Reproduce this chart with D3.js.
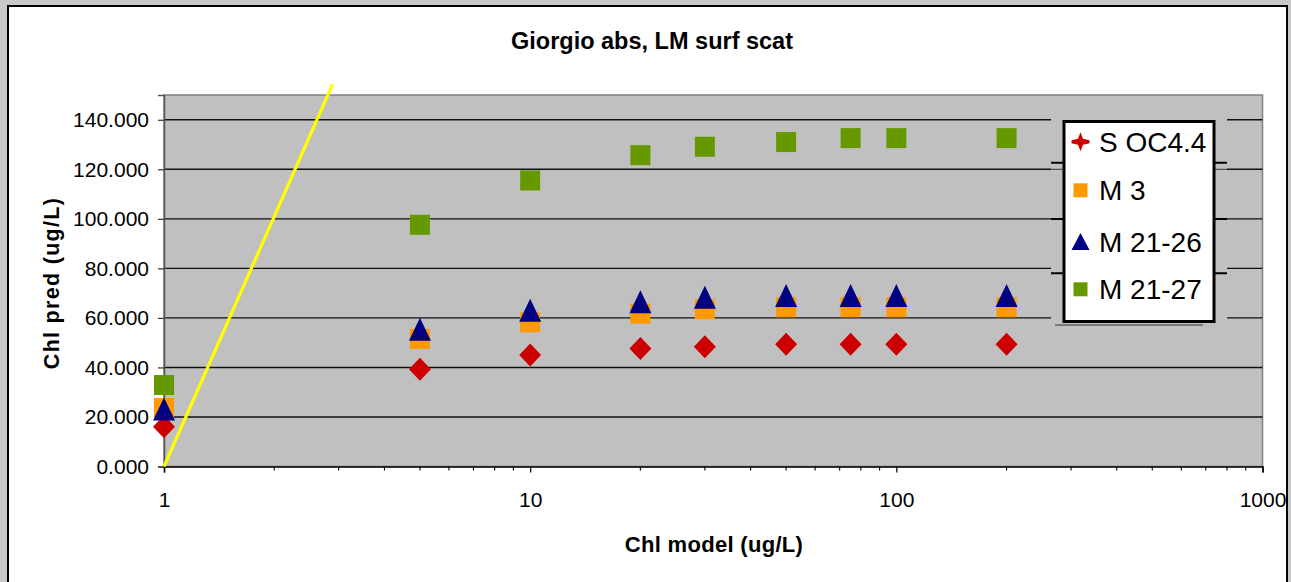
<!DOCTYPE html>
<html>
<head>
<meta charset="utf-8">
<script src="https://cdn.jsdelivr.net/npm/d3@7"></script>
<style>
  html, body { margin: 0; padding: 0; background: #c8c8c8; }
  svg { display: block; }
  text { font-family: "Liberation Sans", Arial, sans-serif; fill: #000; }
</style>
</head>
<body>
<svg id="chart" width="1291" height="582"></svg>
<script>
// Model chlorophyll concentrations (x values, ug/L)
const chlModel = [1, 5, 10, 20, 30, 50, 75, 100, 200];

// Predicted chlorophyll per retrieval (ug/L)
const sOC44   = [16.1, 39.3, 45.0, 47.6, 48.4, 49.4, 49.4, 49.4, 49.4];
const m3      = [23.6, 51.5, 58.2, 61.7, 63.5, 64.3, 64.3, 64.3, 64.3];
const m2126   = [23.2, 55.4, 63.1, 66.5, 68.3, 69.0, 69.0, 69.0, 69.0];
const m2127   = [32.9, 97.6, 115.5, 125.7, 129.1, 131.0, 132.6, 132.6, 132.6];

const seriesNames = ["S OC4.4", "M 3", "M 21-26", "M 21-27"];

// Reference line (yellow)
const refLineX = [1, 2.89];
const refLineY = [0, 154.5];

// Axis ticks
const yTicks = [0, 20, 40, 60, 80, 100, 120, 140];
const xMajorTicks = [1, 10, 100, 1000];

const svg = d3.select("#chart");

// chart area
svg.append("rect")
  .attr("x", 8).attr("y", 6)
  .attr("width", 1279).attr("height", 590)
  .attr("fill", "#fff").attr("stroke", "#000").attr("stroke-width", 2);

const plot = { left: 164, right: 1262.5, top: 95, bottom: 466.5 };

const x = d3.scaleLog().domain([1, 1000]).range([plot.left, plot.right]);
const y = d3.scaleLinear().domain([0, 150]).range([plot.bottom, plot.top]);

// plot area
svg.append("rect")
  .attr("x", plot.left).attr("y", plot.top)
  .attr("width", plot.right - plot.left).attr("height", plot.bottom - plot.top)
  .attr("fill", "#c0c0c0").attr("stroke", "#808080").attr("stroke-width", 1.5);

// horizontal gridlines
svg.append("g").selectAll("line")
  .data(yTicks.filter(d => d > 0))
  .join("line")
  .attr("x1", plot.left).attr("x2", plot.right)
  .attr("y1", d => y(d)).attr("y2", d => y(d))
  .attr("stroke", "#111").attr("stroke-width", 1.4);

// y axis
const yAxis = d3.axisLeft(y)
  .tickValues(yTicks)
  .tickFormat(d3.format(".3f"))
  .tickSize(6)
  .tickPadding(9);
const gy = svg.append("g").attr("transform", `translate(${plot.left},0)`).call(yAxis);
gy.select(".domain").attr("stroke", "#555").attr("stroke-width", 1.5);
gy.selectAll(".tick line").attr("stroke", "#333").attr("stroke-width", 1.2);
gy.selectAll(".tick text")
  .attr("font-size", 21)
  .attr("font-family", "Liberation Sans, Arial, sans-serif")
  .attr("fill", "#000");

// x axis: major ticks with labels, minor ticks inside each decade
const minorTicks = [];
[1, 10, 100].forEach(dec => { for (let k = 2; k <= 9; k++) minorTicks.push(dec * k); });

const xAxis = d3.axisBottom(x)
  .tickValues(xMajorTicks)
  .tickFormat(d3.format("d"))
  .tickSize(6)
  .tickPadding(20);
const gx = svg.append("g").attr("transform", `translate(0,${plot.bottom})`).call(xAxis);
gx.select(".domain").attr("stroke", "#000").attr("stroke-width", 1.5);
gx.selectAll(".tick line").attr("stroke", "#000").attr("stroke-width", 1.2);
gx.selectAll(".tick text")
  .attr("font-size", 21)
  .attr("font-family", "Liberation Sans, Arial, sans-serif")
  .attr("fill", "#000");

svg.append("g").attr("transform", `translate(0,${plot.bottom})`)
  .selectAll("line").data(minorTicks).join("line")
  .attr("x1", d => x(d)).attr("x2", d => x(d))
  .attr("y1", 0).attr("y2", 4)
  .attr("stroke", "#000").attr("stroke-width", 1.1);

// reference line
const refPts = refLineX.map((v, i) => [v, refLineY[i]]);
svg.append("path")
  .datum(refPts)
  .attr("d", d3.line().x(d => x(d[0])).y(d => y(d[1])))
  .attr("fill", "none").attr("stroke", "#ffff00").attr("stroke-width", 3.2);

// marker shapes
const diamond = (w, h) => `M0,${-h / 2}L${w / 2},0L0,${h / 2}L${-w / 2},0Z`;
const square = s => `M${-s / 2},${-s / 2}h${s}v${s}h${-s}Z`;
const triangle = (w, h) => `M0,${-h / 2}L${w / 2},${h / 2}L${-w / 2},${h / 2}Z`;

const series = [
  { name: seriesNames[0], values: sOC44, color: "#cc0000", shape: diamond(22, 23) },
  { name: seriesNames[1], values: m3,    color: "#ff9900", shape: square(20) },
  { name: seriesNames[2], values: m2126, color: "#000080", shape: triangle(22, 23) },
  { name: seriesNames[3], values: m2127, color: "#669900", shape: square(20) }
];

series.forEach(s => {
  svg.append("g").selectAll("path")
    .data(chlModel.map((cx, i) => [cx, s.values[i]]))
    .join("path")
    .attr("transform", d => `translate(${x(d[0])},${y(d[1])})`)
    .attr("d", s.shape)
    .attr("fill", s.color);
});

// legend
const lg = svg.append("g");
// backing strip behind the legend box
lg.append("rect").attr("x", 1051).attr("y", 114).attr("width", 176).attr("height", 212)
  .attr("fill", "#c0c0c0");
[y(120), y(100)].forEach(gyv => {
  lg.append("line").attr("x1", 1051).attr("x2", 1227).attr("y1", gyv).attr("y2", gyv)
    .attr("stroke", "#555").attr("stroke-width", 1.2);
});
[162.7, 219, 273.3].forEach(sy => {
  lg.append("line").attr("x1", 1051).attr("x2", 1227).attr("y1", sy).attr("y2", sy)
    .attr("stroke", "#000").attr("stroke-width", 2);
});
lg.append("line").attr("x1", 1055).attr("x2", 1203).attr("y1", 325).attr("y2", 325)
  .attr("stroke", "#333").attr("stroke-width", 1);
lg.append("rect")
  .attr("x", 1064).attr("y", 121.5).attr("width", 150).attr("height", 200)
  .attr("fill", "#fff").attr("stroke", "#000").attr("stroke-width", 3);

const star = "M0,-9.5L2.5,-3L9,-1.5L9,1.5L2.5,3L0,9.5L-2.5,3L-9,1.5L-9,-1.5L-2.5,-3Z";
const legendShapes = [star, square(14), triangle(18, 17), square(14)];
const legendRowY = [141.7, 190.3, 241.5, 289.3];

series.forEach((s, i) => {
  lg.append("path")
    .attr("transform", `translate(1080.5,${legendRowY[i]})`)
    .attr("d", legendShapes[i])
    .attr("fill", s.color);
  lg.append("text")
    .attr("x", 1099).attr("y", legendRowY[i] + 10)
    .attr("font-size", 28)
    .text(s.name);
});

// titles
svg.append("text")
  .attr("x", 652).attr("y", 49)
  .attr("text-anchor", "middle")
  .attr("font-size", 23.5).attr("font-weight", "bold")
  .text("Giorgio abs, LM surf scat");

svg.append("text")
  .attr("x", 714).attr("y", 552)
  .attr("text-anchor", "middle")
  .attr("font-size", 22).attr("font-weight", "bold")
  .attr("letter-spacing", 0.3)
  .text("Chl model (ug/L)");

svg.append("text")
  .attr("transform", "translate(58.5,283) rotate(-90)")
  .attr("text-anchor", "middle")
  .attr("font-size", 21.5).attr("font-weight", "bold")
  .attr("letter-spacing", 1.3)
  .text("Chl pred (ug/L)");
</script>
</body>
</html>
